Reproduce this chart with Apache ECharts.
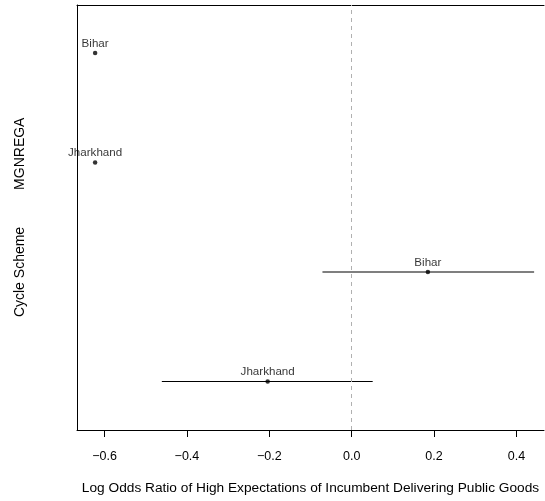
<!DOCTYPE html>
<html>
<head>
	<meta charset="UTF-8">
	<title>Log odds ratio</title>
	<style>
		html, body { margin: 0; padding: 0; background: #fff; }
		#container { width: 545px; height: 501px; }
	</style>
</head>
<body>
<div id="container"></div>
<script src="https://cdn.jsdelivr.net/npm/echarts@6/dist/echarts.min.js"></script>
<script>
	// data
	var states = ['Bihar', 'Jharkhand', 'Bihar', 'Jharkhand'];
	var rowPos = [4, 3, 2, 1];
	var estimates = [-0.623, -0.623, 0.185, -0.204];
	var ciLow = [null, null, -0.071, -0.461];
	var ciHigh = [null, null, 0.443, 0.051];
	var groupNames = ['MGNREGA', 'Cycle Scheme'];
	var groupPos = [3.08, 2.0];
	var xTicks = [-0.6, -0.4, -0.2, 0.0, 0.2, 0.4];
	var xTickLabels = ['\u22120.6', '\u22120.4', '\u22120.2', '0.0', '0.2', '0.4'];

	var font = 'Liberation Sans, Arial, Helvetica, sans-serif';

	var dom = document.getElementById('container');
	var myChart = echarts.init(dom);

	var pointData = [];
	var barData = [];
	for (var i = 0; i < states.length; i++) {
		pointData.push({ value: [estimates[i], rowPos[i]], name: states[i] });
		if (ciLow[i] !== null) {
			barData.push([ciLow[i], ciHigh[i], rowPos[i]]);
		}
	}

	function tickLabel(v) {
		v = Number(v);
		for (var j = 0; j < xTicks.length; j++) {
			if (Math.abs(xTicks[j] - v) < 1e-6) return xTickLabels[j];
		}
		return '';
	}

	var option = {
		animation: false,
		grid: { left: 77, right: 1, top: 5, bottom: 71 },
		xAxis: [
			{
				type: 'value',
				min: -0.667,
				max: 0.467,
				position: 'bottom',
				name: 'Log Odds Ratio of High Expectations of Incumbent Delivering Public Goods',
				nameLocation: 'middle',
				nameGap: 51,
				nameTextStyle: { color: '#000', fontSize: 13.7, fontFamily: font },
				axisLine: { onZero: false, lineStyle: { color: '#000', width: 1 } },
				axisTick: { show: true, length: 7, inside: false, customValues: xTicks, lineStyle: { color: '#000' } },
				axisLabel: {
					customValues: xTicks,
					margin: 20,
					color: '#000',
					fontSize: 12.5,
					fontFamily: font,
					formatter: tickLabel
				},
				splitLine: { show: false }
			},
			{
				type: 'value',
				min: -0.667,
				max: 0.467,
				position: 'top',
				axisLine: { show: true, onZero: false, lineStyle: { color: '#000', width: 1 } },
				axisTick: { show: false },
				axisLabel: { show: false },
				splitLine: { show: false }
			}
		],
		yAxis: {
			type: 'value',
			min: 0.557,
			max: 4.438,
			position: 'left',
			axisLine: { show: true, onZero: false, lineStyle: { color: '#000', width: 1 } },
			axisTick: { show: false },
			axisLabel: { show: false },
			splitLine: { show: false }
		},
		series: [
			{
				type: 'custom',
				name: 'ci',
				xAxisIndex: 0,
				data: barData,
				renderItem: function (params, api) {
					var p1 = api.coord([api.value(0), api.value(2)]);
					var p2 = api.coord([api.value(1), api.value(2)]);
					return {
						type: 'line',
						shape: { x1: p1[0], y1: p1[1], x2: p2[0], y2: p2[1] },
						style: { stroke: '#000', lineWidth: 1.2 }
					};
				},
				markLine: {
					silent: true,
					symbol: 'none',
					label: { show: false },
					lineStyle: { color: '#b0b0b0', type: [4, 4], width: 1 },
					data: [{ xAxis: 0 }]
				}
			},
			{
				type: 'scatter',
				name: 'est',
				xAxisIndex: 0,
				symbol: 'circle',
				symbolSize: 4.5,
				itemStyle: { color: '#000' },
				label: {
					show: true,
					position: 'top',
					distance: 1,
					formatter: '{b}',
					color: '#000',
					fontSize: 11.6,
					fontFamily: font
				},
				data: pointData
			}
		]
	};

	myChart.setOption(option, true);

	// rotated group labels on the left, placed through the y scale
	var g = [];
	for (var k = 0; k < groupNames.length; k++) {
		var py = myChart.convertToPixel({ yAxisIndex: 0 }, groupPos[k]);
		g.push({
			type: 'text',
			x: 20,
			y: py,
			rotation: Math.PI / 2,
			style: {
				text: groupNames[k],
				fill: '#000',
				fontSize: 14,
				fontFamily: font,
				align: 'center',
				verticalAlign: 'middle'
			}
		});
	}
	myChart.setOption({ graphic: g });
</script>
</body>
</html>
